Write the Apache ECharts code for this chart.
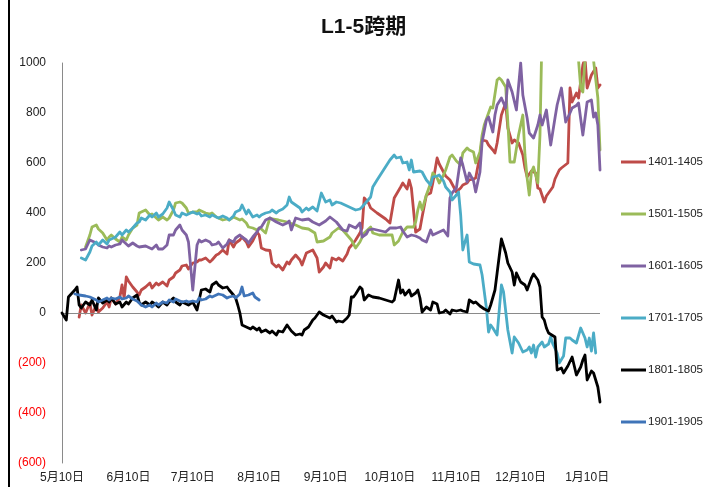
<!DOCTYPE html>
<html>
<head>
<meta charset="utf-8">
<script src="https://cdn.jsdelivr.net/npm/echarts@6/dist/echarts.min.js"></script>
<style>
  html, body { margin: 0; padding: 0; background: #fff; }
  #chart { width: 718px; height: 487px; }
</style>
</head>
<body>
<div id="chart"></div>
<script>
// Calendar spread L1-5: one line per contract year, plotted on a shared May–January calendar.
const chartTitle = 'L1-5跨期';
const seriesNames = ['1401-1405', '1501-1505', '1601-1605', '1701-1705', '1801-1805', '1901-1905'];
const xLabelDates = ['05-10', '06-10', '07-10', '08-10', '09-10', '10-10', '11-10', '12-10', '01-10'];
const yTicks = [-600, -400, -200, 0, 200, 400, 600, 800, 1000];

const s1401 = [
  ['05-18',-16],['05-19',32],['05-21',0],['05-23',40],['05-24',-8],['05-26',32],['05-27',4],['05-29',20],['05-31',44],
  ['06-01',24],['06-02',60],['06-04',36],['06-06',64],['06-07',112],['06-08',60],['06-09',144],['06-10',128],['06-12',104],
  ['06-14',84],['06-15',72],['06-16',92],['06-18',104],['06-20',120],['06-21',100],['06-23',120],['06-24',112],['06-26',124],
  ['06-28',108],['06-29',132],['07-01',144],['07-02',160],['07-04',172],['07-05',188],['07-07',192],['07-08',176],['07-10',200],
  ['07-12',204],['07-13',212],['07-14',212],['07-16',220],['07-18',204],['07-19',212],['07-21',232],['07-22',236],['07-24',252],
  ['07-26',236],['07-27',292],['07-29',264],['07-30',280],['08-01',292],['08-02',304],['08-04',284],['08-05',264],['08-07',288],
  ['08-09',324],['08-10',312],['08-11',260],['08-13',252],['08-15',250],['08-16',200],['08-18',184],['08-19',192],['08-21',172],
  ['08-23',204],['08-24',196],['08-25',212],['08-27',232],['08-29',212],['08-30',192],['09-01',240],['09-02',244],['09-04',252],
  ['09-06',220],['09-07',164],['09-09',184],['09-10',200],['09-12',180],['09-13',220],['09-15',212],['09-16',220],['09-18',208],
  ['09-20',236],['09-21',260],['09-23',280],['09-24',292],['09-26',320],['09-27',340],['09-28',460],['09-30',440],['10-01',420],
  ['10-04',400],['10-08',376],['10-10',360],['10-12',460],['10-15',504],['10-16',520],['10-18',496],['10-19',532],['10-20',500],
  ['10-22',324],['10-24',336],['10-25',384],['10-27',472],['10-29',480],['10-30',520],['11-01',620],['11-02',596],['11-04',564],
  ['11-05',548],['11-07',532],['11-08',516],['11-10',484],['11-12',500],['11-13',512],['11-15',520],['11-16',532],['11-18',536],
  ['11-19',540],['11-21',632],['11-22',692],['11-24',688],['11-25',672],['11-27',652],['11-28',640],['11-29',680],['12-01',792],
  ['12-03',840],['12-04',740],['12-06',680],['12-07',692],['12-09',680],['12-11',632],['12-12',580],['12-13',544],['12-15',568],
  ['12-17',560],['12-18',500],['12-19',496],['12-21',444],['12-22',468],['12-25',504],['12-26',536],['12-28',572],['12-29',580],
  ['01-01',600],['01-02',900],['01-03',844],['01-05',880],['01-06',860],['01-08',992],['01-09',1020],['01-10',900],['01-12',952],
  ['01-14',980],['01-15',900],['01-16',912]
];

const s1501 = [
  ['05-21',264],['05-23',312],['05-24',344],['05-26',352],['05-27',336],['05-29',320],['05-31',292],['06-01',304],['06-02',312],
  ['06-04',296],['06-06',284],['06-07',304],['06-09',292],['06-10',312],['06-12',340],['06-14',352],['06-15',400],['06-16',404],
  ['06-18',412],['06-20',392],['06-21',396],['06-23',380],['06-24',372],['06-26',384],['06-28',372],['06-29',380],['07-01',412],
  ['07-02',440],['07-04',444],['07-05',440],['07-07',420],['07-08',400],['07-10',404],['07-12',404],['07-13',412],['07-14',408],
  ['07-16',400],['07-18',396],['07-19',400],['07-21',384],['07-22',380],['07-24',372],['07-26',376],['07-27',372],['07-29',384],
  ['07-30',380],['08-01',372],['08-02',376],['08-04',360],['08-05',344],['08-07',340],['08-09',332],['08-10',340],['08-11',336],
  ['08-13',320],['08-14',352],['08-15',380],['08-16',376],['08-19',372],['08-23',364],['08-27',352],['08-30',340],['09-02',336],
  ['09-05',320],['09-06',284],['09-09',288],['09-12',304],['09-13',320],['09-16',340],['09-18',332],['09-20',312],['09-22',292],
  ['09-24',260],['09-26',284],['09-28',320],['09-30',336],['10-01',344],['10-02',320],['10-05',312],['10-08',312],['10-11',312],
  ['10-12',272],['10-14',288],['10-16',324],['10-18',344],['10-21',344],['10-22',364],['10-23',412],['10-24',444],['10-25',412],
  ['10-27',472],['10-29',520],['10-30',560],['11-01',540],['11-02',520],['11-04',552],['11-05',572],['11-07',624],['11-08',632],
  ['11-10',608],['11-12',592],['11-13',640],['11-15',660],['11-16',652],['11-18',644],['11-19',600],['11-21',644],['11-22',712],
  ['11-23',752],['11-26',824],['11-27',820],['11-29',932],['11-30',940],['12-01',932],['12-03',904],['12-04',764],['12-05',604],
  ['12-07',604],['12-09',712],['12-11',792],['12-12',632],['12-13',540],['12-14',472],['12-15',564],['12-16',584],['12-18',520],
  ['12-19',712],['12-20',1150],['12-21',1180],['12-26',1200],['12-29',1150],['01-03',1100],['01-06',1010],['01-07',900],
  ['01-08',884],['01-09',1010],['01-11',1030],['01-13',1010],['01-15',860],['01-16',652]
];

const s1601 = [
  ['05-19',252],['05-21',256],['05-23',292],['05-26',280],['05-27',272],['05-29',264],['05-31',260],['06-01',268],['06-02',264],
  ['06-04',272],['06-06',276],['06-07',292],['06-09',276],['06-10',268],['06-12',280],['06-14',268],['06-15',264],['06-18',268],
  ['06-20',260],['06-21',256],['06-23',272],['06-24',256],['06-26',256],['06-28',272],['06-29',312],['07-01',312],['07-02',332],
  ['07-04',352],['07-05',332],['07-07',312],['07-08',284],['07-10',92],['07-11',184],['07-12',272],['07-13',292],['07-14',284],
  ['07-16',292],['07-18',284],['07-19',272],['07-21',276],['07-22',284],['07-24',260],['07-26',276],['07-27',292],['07-29',284],
  ['07-30',300],['08-01',312],['08-02',304],['08-04',292],['08-05',280],['08-07',304],['08-09',324],['08-10',340],['08-11',344],
  ['08-13',372],['08-15',380],['08-18',364],['08-21',352],['08-23',360],['08-24',368],['08-25',332],['08-27',380],['08-30',372],
  ['09-02',376],['09-04',364],['09-07',352],['09-10',368],['09-12',384],['09-15',364],['09-18',332],['09-20',328],['09-21',352],
  ['09-24',340],['09-26',360],['09-27',304],['09-29',316],['09-30',332],['10-02',336],['10-04',332],['10-08',324],['10-10',340],
  ['10-13',340],['10-15',344],['10-16',328],['10-18',304],['10-20',312],['10-22',308],['10-24',300],['10-25',292],['10-27',284],
  ['10-29',332],['10-30',312],['11-01',320],['11-03',328],['11-04',332],['11-06',308],['11-07',460],['11-08',480],['11-10',500],
  ['11-12',620],['11-13',592],['11-15',524],['11-16',560],['11-18',528],['11-19',484],['11-21',564],['11-22',684],['11-24',772],
  ['11-25',784],['11-27',724],['11-28',792],['11-29',832],['12-01',860],['12-03',820],['12-04',932],['12-06',884],['12-08',812],
  ['12-10',1000],['12-11',872],['12-13',780],['12-14',720],['12-16',700],['12-18',752],['12-19',792],['12-20',752],['12-22',812],
  ['12-24',672],['12-26',780],['12-27',832],['12-29',900],['12-31',764],['01-02',800],['01-03',820],['01-05',830],['01-06',840],
  ['01-08',712],['01-10',844],['01-12',852],['01-13',784],['01-14',800],['01-15',752],['01-16',572]
];

const s1701 = [
  ['05-19',220],['05-21',212],['05-23',244],['05-24',268],['05-26',284],['05-27',272],['05-29',292],['05-31',276],['06-01',292],
  ['06-02',296],['06-04',304],['06-06',324],['06-07',312],['06-09',332],['06-10',324],['06-12',340],['06-14',360],['06-15',364],
  ['06-16',380],['06-18',372],['06-20',392],['06-21',384],['06-23',400],['06-24',384],['06-26',396],['06-28',420],['06-29',444],
  ['07-01',412],['07-02',392],['07-04',384],['07-05',400],['07-07',392],['07-08',396],['07-10',404],['07-12',396],['07-13',400],
  ['07-14',388],['07-16',392],['07-18',384],['07-19',392],['07-21',384],['07-22',380],['07-24',388],['07-26',380],['07-27',372],
  ['07-29',388],['07-30',404],['08-01',412],['08-02',432],['08-04',396],['08-05',412],['08-07',384],['08-09',392],['08-10',384],
  ['08-11',392],['08-13',400],['08-15',404],['08-16',412],['08-18',400],['08-19',408],['08-21',416],['08-23',432],['08-24',464],
  ['08-25',444],['08-27',432],['08-29',420],['08-30',404],['09-01',420],['09-02',412],['09-04',424],['09-06',408],['09-07',444],
  ['09-08',480],['09-10',444],['09-12',452],['09-13',432],['09-15',444],['09-17',440],['09-19',432],['09-21',424],['09-23',416],
  ['09-24',412],['09-26',416],['09-27',424],['09-29',444],['10-01',464],['10-02',504],['10-04',532],['10-07',572],['10-10',612],
  ['10-12',632],['10-13',620],['10-15',624],['10-16',600],['10-18',604],['10-19',572],['10-20',612],['10-21',564],['10-24',568],
  ['10-25',564],['10-27',532],['10-29',512],['10-30',544],['11-01',548],['11-02',552],['11-04',528],['11-05',504],['11-07',484],
  ['11-08',452],['11-10',472],['11-11',484],['11-12',392],['11-13',252],['11-14',284],['11-15',312],['11-16',204],['11-18',196],
  ['11-21',192],['11-22',152],['11-24',20],['11-25',-76],['11-26',-48],['11-27',-60],['11-29',-88],['12-01',112],['12-02',84],
  ['12-04',-68],['12-06',-160],['12-07',-96],['12-09',-120],['12-11',-156],['12-13',-148],['12-14',-136],['12-15',-160],
  ['12-16',-128],['12-17',-176],['12-18',-136],['12-20',-116],['12-21',-136],['12-23',-124],['12-24',-96],['12-25',-124],
  ['12-27',-160],['12-28',-200],['12-30',-172],['12-31',-100],['01-02',-100],['01-03',-108],['01-05',-120],['01-07',-60],
  ['01-09',-100],['01-10',-136],['01-11',-100],['01-12',-152],['01-13',-80],['01-14',-160]
];

const s1801 = [
  ['05-10',0],['05-12',-28],['05-13',64],['05-16',92],['05-17',104],['05-18',32],['05-19',20],['05-21',44],['05-23',32],
  ['05-24',52],['05-26',12],['05-27',60],['05-29',40],['05-31',52],['06-01',44],['06-02',60],['06-04',36],['06-06',44],
  ['06-07',24],['06-09',44],['06-10',36],['06-12',60],['06-14',72],['06-15',44],['06-16',32],['06-18',44],['06-20',32],
  ['06-21',44],['06-23',32],['06-24',24],['06-26',44],['06-28',32],['06-29',44],['07-01',60],['07-02',44],['07-04',32],
  ['07-05',44],['07-07',36],['07-08',32],['07-10',44],['07-12',12],['07-13',52],['07-14',92],['07-16',96],['07-18',84],
  ['07-19',112],['07-21',124],['07-22',112],['07-24',100],['07-26',104],['07-27',92],['07-29',72],['07-30',60],['07-31',32],
  ['08-01',0],['08-02',-48],['08-04',-56],['08-06',-64],['08-07',-56],['08-09',-68],['08-10',-60],['08-11',-76],['08-13',-68],
  ['08-15',-80],['08-16',-72],['08-18',-88],['08-19',-72],['08-21',-76],['08-23',-48],['08-24',-60],['08-25',-72],['08-27',-88],
  ['08-29',-84],['08-30',-88],['08-31',-68],['09-02',-56],['09-04',-28],['09-05',-20],['09-07',4],['09-09',-8],['09-10',-12],
  ['09-12',-20],['09-13',-12],['09-15',-36],['09-16',-32],['09-18',-36],['09-20',-20],['09-21',-8],['09-22',64],['09-23',64],
  ['09-24',76],['09-26',104],['09-27',96],['09-28',52],['09-30',72],['10-02',64],['10-05',60],['10-08',52],['10-11',44],
  ['10-12',52],['10-14',132],['10-15',80],['10-16',92],['10-17',72],['10-19',92],['10-20',68],['10-22',80],['10-23',92],
  ['10-24',60],['10-25',4],['10-27',24],['10-29',12],['10-30',44],['11-01',36],['11-02',0],['11-04',4],['11-05',12],
  ['11-07',-4],['11-08',12],['11-10',8],['11-12',12],['11-13',8],['11-15',4],['11-16',52],['11-18',40],['11-19',44],
  ['11-21',28],['11-23',16],['11-25',8],['11-26',32],['11-28',92],['11-29',160],['12-01',296],['12-03',240],['12-04',200],
  ['12-06',164],['12-07',112],['12-08',160],['12-10',124],['12-12',112],['12-13',92],['12-15',140],['12-16',156],['12-18',132],
  ['12-19',104],['12-20',-16],['12-21',-28],['12-22',-60],['12-23',-80],['12-26',-96],['12-27',-228],['12-29',-220],
  ['12-30',-240],['01-01',-212],['01-03',-176],['01-05',-248],['01-07',-216],['01-08',-188],['01-09',-168],['01-10',-268],
  ['01-12',-232],['01-13',-240],['01-15',-296],['01-16',-356]
];

const s1901 = [
  ['05-16',76],['05-18',72],['05-21',68],['05-23',64],['05-24',60],['05-26',52],['05-27',44],['05-29',52],['05-31',60],
  ['06-01',52],['06-02',60],['06-04',56],['06-06',64],['06-07',56],['06-09',60],['06-10',68],['06-12',56],['06-14',48],
  ['06-15',40],['06-16',32],['06-18',24],['06-20',32],['06-21',24],['06-23',40],['06-24',32],['06-26',44],['06-28',40],
  ['06-29',52],['07-01',44],['07-02',56],['07-04',48],['07-05',44],['07-07',48],['07-08',44],['07-10',48],['07-12',44],
  ['07-13',60],['07-14',52],['07-16',56],['07-18',68],['07-19',64],['07-21',72],['07-22',76],['07-24',72],['07-26',60],
  ['07-27',64],['07-29',68],['07-30',60],['08-01',76],['08-02',104],['08-03',68],['08-05',72],['08-07',80],['08-08',64],
  ['08-10',52]
];

const seriesData = [s1401, s1501, s1601, s1701, s1801, s1901];
const seriesColors = ['#BE4B48', '#9BBB59', '#7F62A2', '#4BACC6', '#000000', '#3F74B8'];

// Month-day strings span May to January; January belongs to the following year.
function toTime(md) {
  const [m, d] = md.split('-').map(Number);
  const y = m >= 5 ? 2000 : 2001;
  return new Date(y, m - 1, d).getTime();
}

const chart = echarts.init(document.getElementById('chart'), null, { renderer: 'canvas' });
const baseFont = '"Liberation Sans", "Noto Sans CJK SC", sans-serif';

const series = seriesNames.map((name, i) => {
  const s = {
    name: name,
    type: 'line',
    data: seriesData[i].map(p => [toTime(p[0]), p[1]]),
    showSymbol: false,
    symbol: 'none',
    clip: true,
    lineStyle: { color: seriesColors[i], width: 2.8, join: 'round', cap: 'round' },
    itemStyle: { color: seriesColors[i] },
    z: 2 + i
  };
  if (i === 0) {
    // zero baseline across the plot
    s.markLine = {
      silent: true,
      symbol: 'none',
      label: { show: false },
      lineStyle: { color: '#8a8a8a', width: 1, type: 'solid' },
      data: [{ yAxis: 0 }]
    };
  }
  return s;
});

chart.setOption({
  animation: false,
  backgroundColor: '#ffffff',
  title: {
    text: chartTitle,
    left: 321,
    top: 17,
    padding: 0,
    textStyle: { fontFamily: baseFont, fontSize: 21, fontWeight: 'bold', color: '#111' }
  },
  legend: {
    orient: 'vertical',
    left: 621,
    top: 155,
    padding: 0,
    itemWidth: 25,
    itemHeight: 3,
    itemGap: 38,
    icon: 'rect',
    data: seriesNames,
    textStyle: { fontFamily: baseFont, fontSize: 11.5, color: '#222', lineHeight: 14, padding: [0, 0, 0, -3] }
  },
  grid: { left: 62, right: 118, top: 63, bottom: 24, containLabel: false },
  xAxis: {
    type: 'value',
    min: toTime('05-10'),
    max: toTime('01-16'),
    axisLine: { show: false },
    axisTick: { show: false },
    splitLine: { show: false },
    axisLabel: {
      customValues: xLabelDates.map(toTime),
      margin: 9,
      fontFamily: baseFont,
      fontSize: 12,
      color: '#222',
      formatter: function (v) {
        const d = new Date(v);
        return (d.getMonth() + 1) + '月' + d.getDate() + '日';
      }
    }
  },
  yAxis: {
    type: 'value',
    min: yTicks[0],
    max: yTicks[yTicks.length - 1],
    interval: 200,
    axisLine: { show: true, onZero: false, lineStyle: { color: '#8a8a8a', width: 1 } },
    axisTick: { show: false },
    splitLine: { show: false },
    axisLabel: {
      margin: 16,
      fontFamily: baseFont,
      fontSize: 12,
      color: function (v) { return Number(v) < 0 ? '#FF0000' : '#222'; },
      formatter: function (v) { return v < 0 ? '(' + Math.abs(v) + ')' : String(v); }
    }
  },
  graphic: [
    { type: 'rect', left: 8, top: 0, shape: { width: 2, height: 487 }, style: { fill: '#000' }, silent: true }
  ],
  series: series
});
</script>
</body>
</html>
